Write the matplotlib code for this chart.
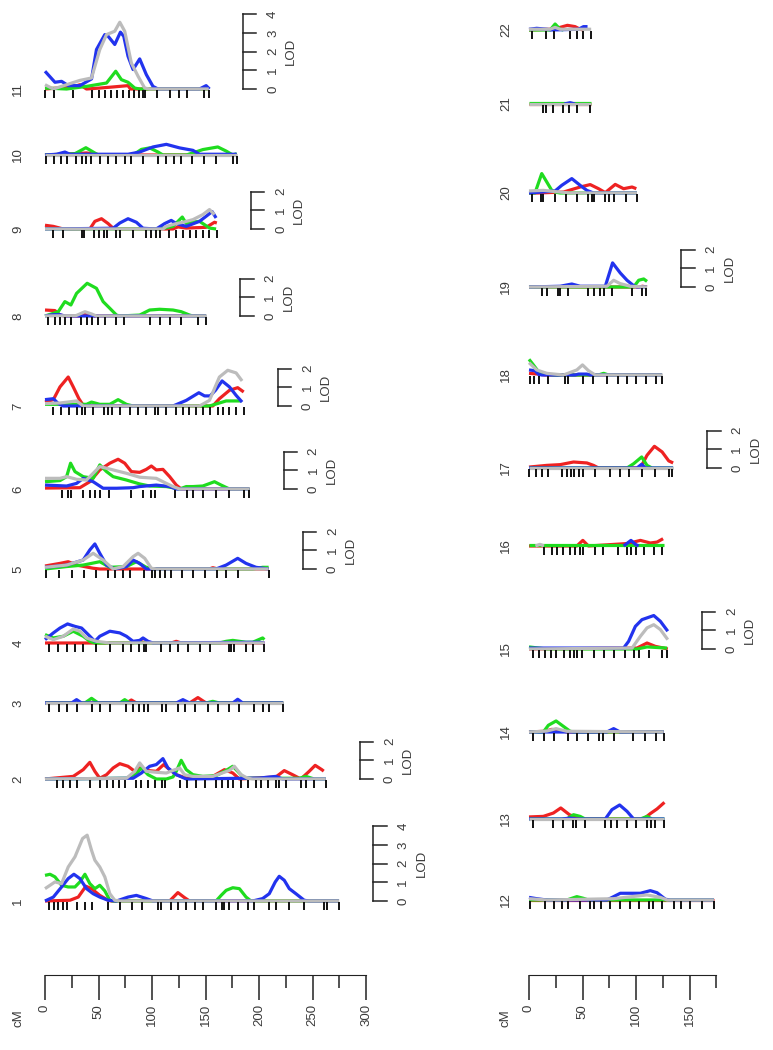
import numpy as np
import matplotlib
matplotlib.use("Agg")
import matplotlib.pyplot as plt

plt.rcParams['font.family'] = ['Liberation Sans', 'DejaVu Sans']

# ---- data (cM positions, LOD values) ----
chrom_len = {'1': 274.8, '2': 262.4, '3': 222.7, '4': 205.0, '5': 209.0, '6': 191.0,
             '7': 185.7, '8': 150.6, '9': 160.6, '10': 179.2, '11': 153.1,
             '12': 172.8, '13': 126.6, '14': 125.9, '15': 129.7, '16': 126.0, '17': 134.7,
             '18': 124.4, '19': 110.3, '20': 100.9, '21': 58.1, '22': 58.1}

markers = {
    '1': [4.0, 8.4, 12.4, 17.1, 20.2, 30.1, 37.3, 43.5, 59.0, 69.9, 81.7, 91.0, 105.6, 108.1, 118.0,
          124.2, 132.0, 139.8, 148.1, 159.9, 165.5, 167.7, 172.4, 180.1, 189.4, 195.7, 209.0, 215.8,
          227.6, 242.2, 260.9, 264.0, 274.8],
    '2': [10.9, 17.1, 23.3, 30.1, 42.5, 51.2, 57.5, 63.7, 69.3, 74.5, 84.8, 89.4, 96.3, 102.5, 109.6,
          111.8, 125.8, 132.6, 141.3, 149.1, 159.9, 165.5, 170.8, 175.5, 183.2, 189.4, 197.2, 201.9,
          208.1, 215.8, 218.9, 225.2, 239.1, 243.8, 251.6, 262.4],
    '3': [4.0, 13.4, 20.2, 29.5, 43.5, 51.2, 60.6, 75.5, 82.3, 87.9, 92.2, 96.3, 109.6, 113.4, 124.2,
          130.4, 139.8, 152.2, 161.5, 172.4, 181.1, 195.7, 203.4, 209.6, 222.7],
    '4': [4.0, 12.4, 20.2, 28.0, 35.7, 48.1, 60.6, 73.0, 80.7, 87.9, 92.2, 94.1, 108.7, 116.5, 124.2,
          133.5, 144.4, 154.3, 172.4, 173.9, 177.0, 187.9, 194.1, 205.0],
    '5': [0.9, 13.4, 24.8, 36.6, 48.1, 59.0, 65.2, 73.0, 79.8, 92.2, 100.3, 102.5, 107.1, 111.8, 118.0,
          128.3, 138.2, 149.7, 160.9, 169.3, 180.1, 209.0],
    '6': [15.5, 21.7, 23.9, 35.7, 41.9, 46.6, 51.2, 59.6, 80.7, 91.6, 99.4, 102.5, 121.1, 132.9, 138.2,
          147.5, 159.9, 172.4, 186.3, 191.0],
    '7': [7.8, 14.9, 22.4, 29.5, 34.2, 37.3, 44.4, 55.0, 59.0, 63.0, 69.9, 79.2, 87.0, 94.7, 102.5,
          105.6, 113.4, 122.7, 128.9, 134.5, 141.3, 147.5, 154.3, 161.5, 166.8, 172.4, 178.6, 185.7],
    '8': [3.1, 9.3, 14.0, 18.6, 23.9, 33.5, 39.4, 43.5, 49.7, 55.9, 66.8, 73.6, 97.8, 107.1, 116.5,
          127.3, 142.9, 150.6],
    '9': [7.8, 17.1, 34.8, 36.6, 46.0, 50.3, 55.0, 57.5, 66.1, 70.5, 82.3, 94.7, 99.4, 103.4, 107.1,
          115.8, 122.7, 128.9, 135.7, 141.3, 148.1, 153.1, 160.6],
    '10': [0.6, 8.7, 14.9, 20.2, 28.9, 34.8, 38.2, 42.9, 51.2, 59.0, 66.8, 74.5, 80.7, 91.6, 105.6,
           113.4, 120.2, 127.3, 137.6, 148.4, 159.9, 175.5, 179.2],
    '11': [0.0, 8.7, 26.4, 44.0, 50.3, 56.5, 62.1, 67.4, 73.0, 78.6, 83.6, 87.9, 91.6, 93.2, 104.6,
           116.5, 125.1, 132.6, 148.4, 153.1],
    '12': [0.9, 15.0, 23.4, 30.6, 36.9, 47.2, 56.6, 60.9, 67.2, 75.3, 85.3, 94.1, 102.5, 111.9, 115.9,
           124.4, 135.3, 141.6, 150.9, 161.9, 172.8],
    '13': [4.1, 22.8, 32.2, 40.9, 43.8, 52.5, 71.3, 76.9, 82.2, 91.6, 100.3, 110.3, 114.1, 118.1, 126.6],
    '14': [4.1, 14.4, 23.4, 36.9, 45.3, 55.6, 65.0, 69.1, 79.1, 96.9, 108.8, 118.8, 125.9],
    '15': [4.1, 9.7, 15.0, 20.6, 25.3, 32.8, 38.4, 41.6, 44.7, 49.4, 60.3, 69.7, 79.1, 90.0, 97.8,
           102.5, 111.9, 124.4, 129.1],
    '16': [14.1, 21.3, 26.6, 31.6, 38.4, 43.1, 47.2, 50.9, 61.9, 69.1, 82.8, 91.6, 95.6, 100.0, 107.2,
           116.6, 124.4],
    '17': [0.0, 6.3, 11.9, 18.1, 30.6, 35.9, 39.1, 42.2, 46.3, 50.9, 61.9, 75.9, 85.3, 93.1, 105.6,
           118.1, 130.6, 133.8],
    '18': [0.9, 5.0, 9.7, 18.1, 33.8, 36.9, 50.9, 59.7, 72.8, 82.8, 91.6, 100.0, 109.4, 118.8, 124.4],
    '19': [11.9, 16.6, 26.9, 29.1, 36.3, 54.7, 60.9, 66.6, 69.7, 77.5, 96.3, 105.6, 109.4],
    '20': [2.5, 10.9, 13.4, 24.4, 34.7, 45.3, 55.6, 58.8, 60.9, 71.3, 74.4, 79.1, 90.6, 100.9],
    '21': [13.4, 15.6, 22.8, 31.6, 37.8, 44.7, 57.2],
    '22': [2.5, 15.9, 23.4, 38.4, 44.7, 50.9, 58.1],
}

lod_blue = {
    '1': [(0, 0), (7.8, 0.21), (15.5, 0.75), (21.7, 1.2), (27.0, 1.43), (32.6, 1.2), (38.8, 0.66),
          (45.0, 0.39), (51.2, 0.21), (59.0, 0.04), (66.8, 0), (77.6, 0.21), (85.4, 0.3), (94.7, 0.13),
          (100.9, 0), (194.1, 0), (203.4, 0.13), (209.6, 0.39), (215.2, 1.02), (218.9, 1.32),
          (223.6, 1.11), (228.3, 0.66), (234.5, 0.39), (242.2, 0.04), (246.9, 0), (274.8, 0)],
    '2': [(0, 0), (82.3, 0.04), (90.1, 0.32), (97.8, 0.68), (104.0, 0.77), (110.2, 1.09), (114.9, 0.59),
          (122.7, 0.23), (132.0, 0), (200.3, 0.05), (215.8, 0.14), (222.0, 0), (262.4, 0)],
    '3': [(0, 0), (24.8, 0), (29.5, 0.18), (34.2, 0), (122.7, 0), (128.9, 0.18), (135.1, 0),
          (175.5, 0), (180.1, 0.2), (184.8, 0), (222.7, 0)],
    '4': [(0, 0.18), (7.8, 0.54), (14.0, 0.8), (21.1, 1.02), (28.0, 0.89), (34.2, 0.8), (40.4, 0.45),
          (46.6, 0.09), (51.2, 0.36), (60.6, 0.63), (69.9, 0.54), (76.1, 0.36), (82.3, 0.09),
          (88.5, 0.14), (91.6, 0.27), (96.3, 0.09), (100.9, 0), (200.3, 0.04), (205.0, 0)],
    '5': [(0, 0.09), (20.2, 0.21), (35.7, 0.48), (41.9, 1.02), (46.6, 1.34), (51.2, 0.84), (57.5, 0.21),
          (65.2, 0), (76.1, 0.13), (82.3, 0.48), (88.5, 0.3), (94.7, 0), (159.9, 0), (169.3, 0.21),
          (180.1, 0.57), (187.9, 0.3), (197.2, 0.09), (209.0, 0)],
    '6': [(0, 0.21), (20.2, 0.16), (29.5, 0.3), (35.7, 0.57), (45.0, 0.39), (54.3, 0.04), (66.8, 0.04),
          (82.3, 0.07), (88.5, 0.13), (104.0, 0.21), (116.5, 0.13), (122.7, 0), (191.0, 0)],
    '7': [(0, 0.34), (7.8, 0.39), (12.4, 0.13), (17.1, 0), (119.6, 0), (132.0, 0.3), (143.8, 0.71),
          (149.1, 0.54), (154.3, 0.54), (159.3, 0.84), (165.5, 1.34), (172.4, 1.02), (178.6, 0.57),
          (184.2, 0.21)],
    '8': [(0, 0), (7.8, 0.07), (14.0, 0.07), (18.6, 0), (150.6, 0)],
    '9': [(0, 0), (63.7, 0.04), (69.9, 0.32), (77.6, 0.55), (85.4, 0.36), (91.6, 0.04), (104.0, 0),
          (111.8, 0.29), (118.0, 0.46), (122.7, 0.29), (132.0, 0.14), (144.4, 0.41), (150.6, 0.68),
          (156.2, 0.93), (159.9, 0.59)],
    '10': [(0, 0), (10.9, 0.04), (18.6, 0.16), (23.3, 0.04), (77.6, 0.04), (88.5, 0.16), (100.9, 0.43),
           (113.4, 0.57), (125.8, 0.38), (138.2, 0.25), (144.4, 0.04), (179.2, 0.04)],
    '11': [(0, 0.95), (9.3, 0.36), (15.5, 0.41), (21.7, 0.18), (32.6, 0.18), (43.5, 0.54), (48.1, 2.11),
           (55.9, 2.91), (59.0, 2.82), (65.2, 2.38), (70.5, 3.04), (73.6, 2.82), (77.6, 1.75),
           (82.3, 1.04), (88.5, 1.61), (94.7, 0.77), (100.9, 0.14), (105.6, 0), (144.4, 0),
           (150.6, 0.18), (153.7, 0)],
    '12': [(0, 0.14), (7.2, 0.07), (16.6, 0), (72.8, 0), (79.1, 0.18), (85.3, 0.36), (94.7, 0.36),
           (104.1, 0.36), (113.4, 0.5), (119.7, 0.39), (127.5, 0.04), (132.2, 0), (172.8, 0)],
    '13': [(0, 0), (30.6, 0), (38.4, 0.05), (44.7, 0), (71.3, 0), (77.5, 0.5), (84.7, 0.75),
           (91.6, 0.41), (97.8, 0), (126.6, 0)],
    '14': [(0, 0), (72.8, 0), (79.1, 0.18), (83.8, 0.04), (85.3, 0), (125.9, 0)],
    '15': [(0, 0.05), (88.4, 0.05), (93.1, 0.41), (99.4, 1.21), (105.6, 1.57), (116.6, 1.79),
           (122.8, 1.48), (129.7, 0.95)],
    '16': [(88.4, 0), (95.3, 0.3), (99.4, 0.09), (102.5, 0)],
    '17': [(0, 0), (100.9, 0), (105.3, 0.2), (108.8, 0), (134.7, 0)],
    '18': [(0, 0.27), (5.6, 0.23), (8.8, 0.04), (11.9, 0), (43.1, 0), (46.3, 0.05), (54.1, 0.05),
           (57.2, 0), (124.4, 0)],
    '19': [(0, 0), (29.1, 0.04), (40.0, 0.16), (47.8, 0.04), (71.3, 0.04), (78.1, 1.29), (85.3, 0.75),
           (91.6, 0.36), (97.8, 0.07), (100.9, 0), (110.3, 0)],
    '20': [(0, 0), (24.4, 0.11), (30.6, 0.41), (40.0, 0.77), (47.8, 0.41), (54.1, 0.14), (60.3, 0),
           (100.9, 0)],
    '21': [(33.0, 0), (38.4, 0.07), (43.0, 0)],
    '22': [(0, 0.04), (7.2, 0.09), (16.6, 0.04), (21.0, 0), (46.3, 0.04), (50.9, 0.18), (54.7, 0.18)],
}

lod_red = {
    '1': [(0, 0), (23.3, 0.04), (31.1, 0.21), (38.2, 0.79), (43.5, 0.66), (51.2, 0.3), (59.0, 0.04),
          (62.1, 0), (116.5, 0), (124.2, 0.45), (130.4, 0.18), (135.1, 0), (274.8, 0)],
    '2': [(0, 0), (26.4, 0.14), (35.7, 0.5), (41.9, 0.89), (46.6, 0.41), (51.2, 0.04), (57.5, 0.23),
          (63.7, 0.59), (69.9, 0.82), (77.6, 0.68), (83.9, 0.41), (88.5, 0.59), (94.7, 0.46),
          (104.0, 0.41), (110.9, 0.77), (116.5, 0.5), (122.7, 0.23), (132.0, 0.05), (156.8, 0.14),
          (167.7, 0.5), (175.5, 0.32), (181.7, 0), (215.8, 0.11), (223.6, 0.45), (231.4, 0.23),
          (239.1, 0), (246.9, 0.41), (252.5, 0.73), (258.7, 0.5), (260.5, 0.42)],
    '3': [(0, 0), (76.1, 0), (80.7, 0.16), (85.4, 0), (135.1, 0), (142.9, 0.29), (150.6, 0), (222.7, 0)],
    '4': [(0, 0), (82.3, 0), (88.5, 0.09), (94.7, 0), (118.0, 0), (122.7, 0.09), (127.3, 0), (205.0, 0)],
    '5': [(0, 0.16), (14.0, 0.3), (21.7, 0.39), (29.5, 0.21), (45.0, 0.04), (51.2, 0), (153.7, 0),
          (156.8, 0.07), (161.5, 0), (209.0, 0)],
    '6': [(0, 0.05), (32.6, 0.07), (41.9, 0.39), (51.2, 1.02), (60.6, 1.38), (68.3, 1.59), (74.5, 1.38),
          (80.7, 0.93), (88.5, 0.89), (94.7, 1.05), (99.4, 1.23), (104.0, 1.02), (110.2, 1.05),
          (116.5, 0.66), (122.7, 0.21), (127.3, 0), (191.0, 0)],
    '7': [(0, 0.21), (7.8, 0.34), (14.0, 1.02), (21.7, 1.55), (26.4, 1.02), (31.7, 0.39), (35.7, 0.04),
          (38.8, 0), (156.8, 0), (163.0, 0.39), (172.4, 0.84), (180.1, 0.98), (185.7, 0.75)],
    '8': [(0, 0.32), (9.3, 0.29), (14.0, 0.05), (18.6, 0), (32.6, 0), (37.3, 0.11), (43.5, 0.04),
          (46.6, 0), (150.6, 0)],
    '9': [(0, 0.2), (7.8, 0.14), (17.1, 0), (41.9, 0), (46.6, 0.41), (52.8, 0.55), (59.0, 0.29),
          (63.7, 0.04), (66.8, 0), (119.6, 0), (124.2, 0.11), (132.0, 0.05), (150.6, 0.09),
          (158.4, 0.36), (160.6, 0.32)],
    '10': [(0, 0), (28.0, 0.07), (38.8, 0.11), (48.1, 0.04), (51.2, 0), (179.2, 0)],
    '11': [(0, 0), (26.4, 0.11), (32.6, 0.23), (38.8, 0), (51.2, 0.05), (63.7, 0.11), (77.6, 0.18),
           (79.8, 0), (153.1, 0)],
    '12': [(0, 0), (172.8, 0)],
    '13': [(0, 0.11), (13.4, 0.14), (22.8, 0.32), (29.7, 0.59), (37.8, 0.23), (47.8, 0), (107.2, 0),
           (113.4, 0.29), (119.7, 0.54), (126.6, 0.89)],
    '14': [(0, 0), (15.0, 0.04), (21.3, 0.14), (32.2, 0.05), (35.3, 0), (125.9, 0)],
    '15': [(0, 0), (100.9, 0.05), (110.3, 0.32), (118.1, 0.14), (125.9, 0.05), (129.7, 0)],
    '16': [(0, 0), (44.7, 0), (50.3, 0.3), (55.6, 0), (91.6, 0.13), (97.8, 0.21), (104.1, 0.3),
           (113.4, 0.16), (119.7, 0.21), (125.3, 0.39)],
    '17': [(0, 0.05), (16.6, 0.14), (29.1, 0.18), (41.6, 0.32), (54.1, 0.27), (60.3, 0.14), (65.0, 0),
           (104.1, 0), (110.3, 0.68), (117.2, 1.16), (124.4, 0.86), (130.6, 0.38), (134.7, 0.27)],
    '18': [(0, 0.09), (10.3, 0.04), (15.0, 0), (124.4, 0)],
    '19': [(0, 0), (103.0, 0), (106.0, 0.04), (110.3, 0)],
    '20': [(0, 0), (7.2, 0), (32.2, 0.05), (47.8, 0.32), (57.2, 0.45), (65.0, 0.23), (71.3, 0.02),
           (80.6, 0.46), (88.4, 0.23), (96.3, 0.32), (100.3, 0.23)],
    '21': [(0, 0), (58.1, 0)],
    '22': [(0, 0), (19.7, 0.04), (29.1, 0.14), (35.9, 0.25), (43.1, 0.18), (47.8, 0.04), (50.9, 0)],
}

lod_green = {
    '1': [(0, 1.37), (4.7, 1.43), (9.3, 1.29), (15.5, 0.84), (21.7, 0.75), (28.0, 0.75), (32.6, 1.02),
          (37.3, 1.43), (41.9, 0.93), (46.6, 0.66), (51.2, 0.84), (55.9, 0.54), (60.6, 0.04), (63.7, 0),
          (159.9, 0), (164.6, 0.3), (169.3, 0.57), (175.5, 0.71), (181.7, 0.66), (187.9, 0.21),
          (192.5, 0), (274.8, 0)],
    '2': [(0, 0), (76.1, 0.04), (85.4, 0.29), (90.1, 0.59), (96.3, 0.23), (104.0, 0), (113.4, 0),
          (119.6, 0.11), (122.7, 0.41), (127.3, 1.0), (132.0, 0.5), (138.2, 0.23), (147.5, 0.14),
          (159.9, 0.18), (169.3, 0.46), (175.5, 0.68), (180.1, 0.41), (186.3, 0.04), (237.6, 0.04),
          (243.8, 0.14), (251.6, 0), (262.4, 0)],
    '3': [(0, 0), (37.3, 0), (43.5, 0.25), (49.7, 0), (69.9, 0), (74.5, 0.18), (79.2, 0), (150.6, 0),
          (156.8, 0.09), (163.0, 0), (222.7, 0)],
    '4': [(0, 0.45), (7.8, 0.27), (17.1, 0.36), (26.4, 0.63), (35.7, 0.36), (41.9, 0.09), (46.6, 0),
          (163.0, 0), (169.3, 0.09), (175.5, 0.14), (187.9, 0.04), (194.1, 0.04), (203.4, 0.27),
          (205.0, 0.18)],
    '5': [(0, 0), (20.2, 0.13), (35.7, 0.21), (51.2, 0.39), (60.6, 0.09), (76.1, 0.13), (85.4, 0.39),
          (94.7, 0.09), (100.9, 0), (194.1, 0), (203.4, 0.09), (209.0, 0.09)],
    '6': [(0, 0.39), (14.0, 0.45), (20.2, 0.66), (23.9, 1.38), (28.0, 0.93), (35.7, 0.66), (45.0, 0.57),
          (51.2, 1.29), (57.5, 0.93), (63.7, 0.66), (76.1, 0.48), (88.5, 0.27), (97.8, 0.16),
          (113.4, 0.13), (125.8, 0), (132.0, 0.13), (138.2, 0.13), (147.5, 0.16), (158.4, 0.39),
          (164.6, 0.21), (172.4, 0), (191.0, 0)],
    '7': [(0, 0.09), (38.8, 0.09), (43.5, 0.21), (51.2, 0.09), (60.6, 0.09), (68.3, 0.34), (76.1, 0.09),
          (82.3, 0), (153.7, 0), (169.3, 0.27), (183.2, 0.27)],
    '8': [(0, 0), (12.4, 0.23), (18.6, 0.77), (24.2, 0.59), (29.5, 1.21), (39.4, 1.75), (48.1, 1.48),
          (54.3, 0.77), (60.6, 0.41), (66.8, 0.05), (69.9, 0), (88.5, 0.05), (97.8, 0.32),
          (107.1, 0.36), (119.6, 0.32), (127.3, 0.23), (135.1, 0.05), (138.2, 0), (150.6, 0)],
    '9': [(0, 0), (107.1, 0), (119.6, 0.14), (128.3, 0.64), (132.0, 0.29), (136.6, 0.36), (144.4, 0.41),
          (149.1, 0.23), (153.7, 0.05), (159.9, 0)],
    '10': [(0, 0), (28.0, 0.07), (38.2, 0.39), (45.0, 0.16), (49.7, 0), (82.3, 0), (90.1, 0.3),
           (97.8, 0.38), (105.6, 0.16), (110.2, 0), (132.0, 0), (138.2, 0.11), (147.5, 0.29),
           (161.5, 0.43), (169.3, 0.21), (175.5, 0), (179.2, 0.07)],
    '11': [(0, 0.05), (20.2, 0), (38.8, 0.14), (57.5, 0.32), (66.1, 0.95), (71.4, 0.5), (77.6, 0.36),
           (83.9, 0.05), (88.5, 0), (153.1, 0)],
    '12': [(0, 0), (35.3, 0), (44.7, 0.18), (50.9, 0.09), (55.6, 0), (172.8, 0)],
    '13': [(0, 0), (35.3, 0), (41.6, 0.23), (47.8, 0.14), (52.5, 0), (104.1, 0), (110.3, 0.14),
           (115.0, 0), (126.6, 0)],
    '14': [(0, 0), (13.4, 0), (18.1, 0.36), (25.3, 0.59), (32.2, 0.3), (38.4, 0.04), (41.6, 0),
           (125.9, 0)],
    '15': [(0, 0.11), (16.6, 0), (100.9, 0), (110.3, 0.11), (129.1, 0.05)],
    '16': [(0, 0.05), (126.0, 0.05)],
    '17': [(0, 0), (91.6, 0), (97.8, 0.23), (105.3, 0.59), (110.3, 0.14), (115.0, 0), (134.7, 0)],
    '18': [(0, 0.84), (4.1, 0.54), (8.8, 0.18), (16.6, 0.05), (22.8, 0), (65.0, 0), (69.7, 0.09),
           (74.4, 0), (124.4, 0)],
    '19': [(0, 0), (97.8, 0), (102.5, 0.36), (107.2, 0.43), (110.3, 0.3)],
    '20': [(0, 0), (5.6, 0), (11.9, 1.04), (16.6, 0.59), (21.3, 0.14), (24.4, 0.05), (29.1, 0),
           (100.9, 0)],
    '21': [(0, 0.06), (58.1, 0.06)],
    '22': [(0, 0), (19.7, 0), (24.4, 0.32), (29.1, 0.04), (32.2, 0)],
}

lod_gray = {
    '1': [(0, 0.66), (4.7, 0.84), (9.3, 1.02), (15.5, 0.93), (21.7, 1.82), (28.0, 2.36), (35.1, 3.34),
          (39.4, 3.52), (43.5, 2.71), (46.6, 2.18), (51.2, 1.82), (55.9, 1.29), (60.6, 0.39),
          (65.2, 0.04), (69.9, 0), (274.8, 0)],
    '2': [(0, 0), (76.1, 0.04), (83.9, 0.41), (88.5, 0.86), (94.7, 0.41), (104.0, 0.36), (113.4, 0.32),
          (119.6, 0.46), (125.8, 0.59), (130.4, 0.23), (138.2, 0.14), (156.8, 0.14), (172.4, 0.46),
          (177.0, 0.68), (183.2, 0.23), (189.4, 0.04), (194.1, 0), (262.4, 0)],
    '3': [(0, 0), (222.7, 0)],
    '4': [(0, 0.36), (7.8, 0.18), (17.1, 0.36), (26.4, 0.75), (32.6, 0.63), (38.8, 0.27), (48.1, 0.09),
          (60.6, 0), (205.0, 0)],
    '5': [(0, 0.09), (20.2, 0.21), (35.7, 0.48), (45.0, 0.84), (54.3, 0.48), (63.7, 0), (73.0, 0.13),
          (82.3, 0.66), (87.0, 0.84), (93.2, 0.57), (99.4, 0.04), (104.0, 0), (209.0, 0)],
    '6': [(0, 0.57), (14.0, 0.57), (20.2, 0.66), (29.5, 0.52), (38.8, 0.48), (45.0, 0.84), (51.2, 1.2),
          (63.7, 1.02), (76.1, 0.84), (88.5, 0.63), (104.0, 0.57), (113.4, 0.3), (119.6, 0.13),
          (125.8, 0), (191.0, 0)],
    '7': [(0, 0.13), (14.0, 0.16), (29.5, 0.27), (35.7, 0), (144.4, 0), (153.7, 0.3), (163.0, 1.55),
          (170.8, 1.91), (178.6, 1.77), (184.2, 1.34)],
    '8': [(0, 0), (29.0, 0.02), (37.3, 0.23), (43.5, 0.11), (48.1, 0), (150.6, 0)],
    '9': [(0, 0), (110.2, 0), (113.4, 0.14), (122.7, 0.29), (128.9, 0.36), (138.2, 0.5), (147.5, 0.77),
          (153.7, 1.04), (158.4, 0.77)],
    '10': [(0, 0), (179.2, 0)],
    '11': [(0, 0.23), (7.8, 0), (20.2, 0.23), (32.6, 0.46), (43.5, 0.59), (51.2, 2.11), (57.5, 2.91),
           (65.2, 3.09), (69.9, 3.57), (74.5, 3.09), (80.7, 1.39), (87.0, 0.68), (93.2, 0.05),
           (97.8, 0), (153.1, 0)],
    '12': [(0, 0.07), (16.6, 0), (79.1, 0.07), (110.3, 0.27), (122.8, 0.14), (129.1, 0), (172.8, 0)],
    '13': [(0, 0), (126.6, 0)],
    '14': [(0, 0), (16.6, 0.05), (25.3, 0.18), (35.3, 0.04), (125.9, 0)],
    '15': [(0, 0), (96.3, 0.05), (104.1, 0.68), (110.3, 1.13), (116.6, 1.3), (122.8, 1.04),
           (129.7, 0.5)],
    '16': [(6.0, 0), (10.3, 0.09), (14.0, 0)],
    '17': [(0, 0), (134.7, 0)],
    '18': [(0, 0.66), (7.2, 0.27), (16.6, 0.09), (32.2, 0), (44.7, 0.27), (50.0, 0.54), (55.6, 0.23),
           (61.9, 0), (124.4, 0)],
    '19': [(0, 0), (72.8, 0.04), (79.1, 0.36), (85.3, 0.18), (94.7, 0.04), (110.3, 0)],
    '20': [(0, 0.11), (13.4, 0.14), (29.1, 0.05), (38.4, 0), (100.9, 0)],
    '21': [(0, 0), (58.1, 0)],
    '22': [(0, 0.04), (19.7, 0.04), (24.4, 0.14), (29.1, 0.04), (58.1, 0.04)],
}

# LOD scale bars drawn next to some chromosomes (max LOD shown)
lod_scale = {'1': 4, '2': 2, '5': 2, '6': 2, '7': 2, '8': 2, '9': 2, '11': 4,
             '15': 2, '17': 2, '19': 2}

left_chroms = ['11', '10', '9', '8', '7', '6', '5', '4', '3', '2', '1']
right_chroms = ['22', '21', '20', '19', '18', '17', '16', '15', '14', '13', '12']

# ---- layout (pixels of the 773x1050 picture) ----
W, H = 773, 1050
AXIS_Y = 975            # y of the cM axis line
PX_CM = 1.07            # pixels per cM
PX_LOD = 18.7           # pixels per LOD unit
row_y = {'11': 89, '10': 155, '9': 229, '8': 316, '7': 406, '6': 489, '5': 569, '4': 643,
         '3': 703, '2': 779, '1': 901,
         '22': 30, '21': 104, '20': 193, '19': 287, '18': 375, '17': 468, '16': 546, '15': 649,
         '14': 732, '13': 819, '12': 900}

colors = {'red': '#ee2222', 'green': '#1fdc1f', 'blue': '#2233ee', 'gray': '#bcbcbc'}
series = [('red', lod_red), ('green', lod_green), ('blue', lod_blue), ('gray', lod_gray)]
text_col = '#3a3a3a'
fs = 9.5

fig = plt.figure(figsize=(W / 100, H / 100), dpi=100)


def make_col(x0_px, x1_px, zero_px, label_x_cm, tick_max, chroms):
    ax = fig.add_axes([x0_px / W, (H - AXIS_Y) / H, (x1_px - x0_px) / W, AXIS_Y / H])
    ax.set_xlim((x0_px - zero_px) / PX_CM, (x1_px - zero_px) / PX_CM)
    ax.set_ylim(0, AXIS_Y / PX_LOD)
    for s in ['top', 'right', 'left']:
        ax.spines[s].set_visible(False)
    ax.spines['bottom'].set_bounds(0, tick_max)
    ax.spines['bottom'].set_color('#222222')
    ax.set_yticks([])
    ax.set_xticks(np.arange(0, tick_max + 1, 50))
    ax.set_xticks(np.arange(25, tick_max + 1, 50), minor=True)
    ax.tick_params(axis='x', which='major', length=18, width=1.1, color='#222222',
                   labelrotation=90, labelsize=fs, labelcolor=text_col, pad=3)
    ax.tick_params(axis='x', which='minor', length=9.5, width=1.1, color='#222222')
    ax.text(label_x_cm, -43 / AXIS_Y, 'cM', rotation=90, ha='center', va='center',
            fontsize=fs, color=text_col, transform=ax.get_xaxis_transform())

    for ch in chroms:
        off = (AXIS_Y - row_y[ch]) / PX_LOD
        L = chrom_len[ch]
        for name, d in series:
            xs = [p[0] for p in d[ch]]
            ys = [p[1] + off for p in d[ch]]
            ax.plot(xs, ys, color=colors[name], lw=2.3, solid_joinstyle='round',
                    solid_capstyle='butt', clip_on=False)
        ax.vlines(markers[ch], off - 0.5, off - 0.08, color='#111111', lw=1.4)
        ax.text(label_x_cm, off, ch, rotation=90, ha='center', va='center',
                fontsize=fs, color=text_col)
        if ch in lod_scale:
            top = lod_scale[ch]
            xa = L + 32
            ax.plot([xa, xa], [off, off + top], color='#222222', lw=1.1)
            for t in range(top + 1):
                ax.plot([xa, xa + 12.5], [off + t, off + t], color='#222222', lw=1.1)
                ax.text(xa + 28, off + t, str(t), rotation=90, ha='center', va='center',
                        fontsize=fs, color=text_col)
            ax.text(xa + 45, off + top / 2, 'LOD', rotation=90, ha='center', va='center',
                    fontsize=fs, color=text_col)
    return ax


make_col(0, 470, 45, -25, 300, left_chroms)
make_col(470, W, 529, -21.5, 175, right_chroms)

fig.savefig('out.png', dpi=100)
